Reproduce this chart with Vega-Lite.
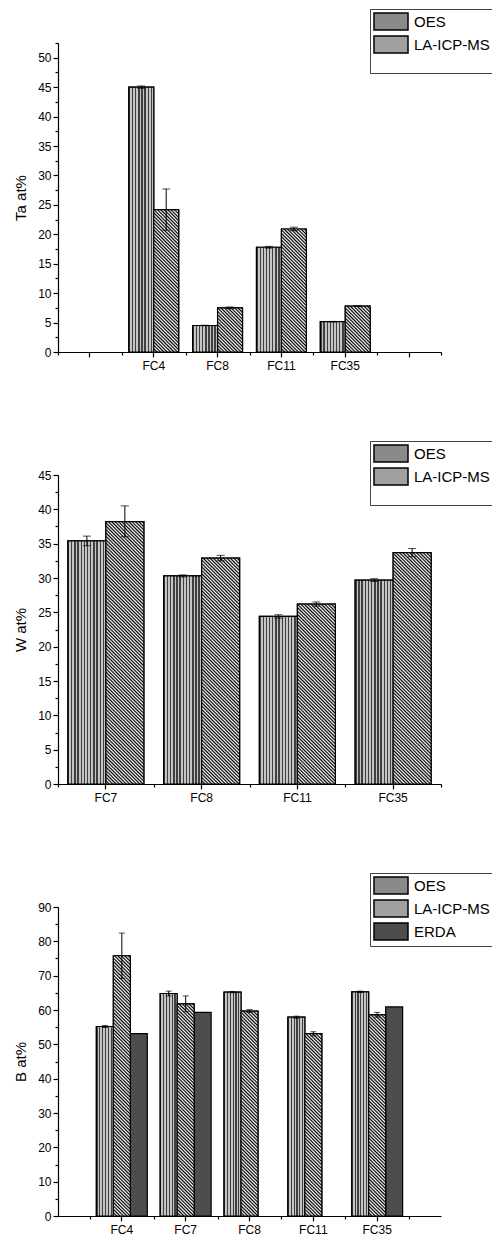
{
  "$schema": "https://vega.github.io/schema/vega-lite/v6.json",
  "padding": {"left": 13, "top": 8, "right": 0, "bottom": 0},
  "params": [
    {"name": "laStops", "value": [
      {"offset": 0, "color": "#000"}, {"offset": 0.005, "color": "#fff"}, {"offset": 0.01, "color": "#000"}, {"offset": 0.015, "color": "#fff"}, {"offset": 0.02, "color": "#000"}, {"offset": 0.025, "color": "#fff"}, {"offset": 0.03, "color": "#000"}, {"offset": 0.035, "color": "#fff"}, {"offset": 0.04, "color": "#000"}, {"offset": 0.045, "color": "#fff"},
      {"offset": 0.05, "color": "#000"}, {"offset": 0.055, "color": "#fff"}, {"offset": 0.06, "color": "#000"}, {"offset": 0.065, "color": "#fff"}, {"offset": 0.07, "color": "#000"}, {"offset": 0.075, "color": "#fff"}, {"offset": 0.08, "color": "#000"}, {"offset": 0.085, "color": "#fff"}, {"offset": 0.09, "color": "#000"}, {"offset": 0.095, "color": "#fff"},
      {"offset": 0.1, "color": "#000"}, {"offset": 0.105, "color": "#fff"}, {"offset": 0.11, "color": "#000"}, {"offset": 0.115, "color": "#fff"}, {"offset": 0.12, "color": "#000"}, {"offset": 0.125, "color": "#fff"}, {"offset": 0.13, "color": "#000"}, {"offset": 0.135, "color": "#fff"}, {"offset": 0.14, "color": "#000"}, {"offset": 0.145, "color": "#fff"},
      {"offset": 0.15, "color": "#000"}, {"offset": 0.155, "color": "#fff"}, {"offset": 0.16, "color": "#000"}, {"offset": 0.165, "color": "#fff"}, {"offset": 0.17, "color": "#000"}, {"offset": 0.175, "color": "#fff"}, {"offset": 0.18, "color": "#000"}, {"offset": 0.185, "color": "#fff"}, {"offset": 0.19, "color": "#000"}, {"offset": 0.195, "color": "#fff"},
      {"offset": 0.2, "color": "#000"}, {"offset": 0.205, "color": "#fff"}, {"offset": 0.21, "color": "#000"}, {"offset": 0.215, "color": "#fff"}, {"offset": 0.22, "color": "#000"}, {"offset": 0.225, "color": "#fff"}, {"offset": 0.23, "color": "#000"}, {"offset": 0.235, "color": "#fff"}, {"offset": 0.24, "color": "#000"}, {"offset": 0.245, "color": "#fff"},
      {"offset": 0.25, "color": "#000"}, {"offset": 0.255, "color": "#fff"}, {"offset": 0.26, "color": "#000"}, {"offset": 0.265, "color": "#fff"}, {"offset": 0.27, "color": "#000"}, {"offset": 0.275, "color": "#fff"}, {"offset": 0.28, "color": "#000"}, {"offset": 0.285, "color": "#fff"}, {"offset": 0.29, "color": "#000"}, {"offset": 0.295, "color": "#fff"},
      {"offset": 0.3, "color": "#000"}, {"offset": 0.305, "color": "#fff"}, {"offset": 0.31, "color": "#000"}, {"offset": 0.315, "color": "#fff"}, {"offset": 0.32, "color": "#000"}, {"offset": 0.325, "color": "#fff"}, {"offset": 0.33, "color": "#000"}, {"offset": 0.335, "color": "#fff"}, {"offset": 0.34, "color": "#000"}, {"offset": 0.345, "color": "#fff"},
      {"offset": 0.35, "color": "#000"}, {"offset": 0.355, "color": "#fff"}, {"offset": 0.36, "color": "#000"}, {"offset": 0.365, "color": "#fff"}, {"offset": 0.37, "color": "#000"}, {"offset": 0.375, "color": "#fff"}, {"offset": 0.38, "color": "#000"}, {"offset": 0.385, "color": "#fff"}, {"offset": 0.39, "color": "#000"}, {"offset": 0.395, "color": "#fff"},
      {"offset": 0.4, "color": "#000"}, {"offset": 0.405, "color": "#fff"}, {"offset": 0.41, "color": "#000"}, {"offset": 0.415, "color": "#fff"}, {"offset": 0.42, "color": "#000"}, {"offset": 0.425, "color": "#fff"}, {"offset": 0.43, "color": "#000"}, {"offset": 0.435, "color": "#fff"}, {"offset": 0.44, "color": "#000"}, {"offset": 0.445, "color": "#fff"},
      {"offset": 0.45, "color": "#000"}, {"offset": 0.455, "color": "#fff"}, {"offset": 0.46, "color": "#000"}, {"offset": 0.465, "color": "#fff"}, {"offset": 0.47, "color": "#000"}, {"offset": 0.475, "color": "#fff"}, {"offset": 0.48, "color": "#000"}, {"offset": 0.485, "color": "#fff"}, {"offset": 0.49, "color": "#000"}, {"offset": 0.495, "color": "#fff"},
      {"offset": 0.5, "color": "#000"}, {"offset": 0.505, "color": "#fff"}, {"offset": 0.51, "color": "#000"}, {"offset": 0.515, "color": "#fff"}, {"offset": 0.52, "color": "#000"}, {"offset": 0.525, "color": "#fff"}, {"offset": 0.53, "color": "#000"}, {"offset": 0.535, "color": "#fff"}, {"offset": 0.54, "color": "#000"}, {"offset": 0.545, "color": "#fff"},
      {"offset": 0.55, "color": "#000"}, {"offset": 0.555, "color": "#fff"}, {"offset": 0.56, "color": "#000"}, {"offset": 0.565, "color": "#fff"}, {"offset": 0.57, "color": "#000"}, {"offset": 0.575, "color": "#fff"}, {"offset": 0.58, "color": "#000"}, {"offset": 0.585, "color": "#fff"}, {"offset": 0.59, "color": "#000"}, {"offset": 0.595, "color": "#fff"},
      {"offset": 0.6, "color": "#000"}, {"offset": 0.605, "color": "#fff"}, {"offset": 0.61, "color": "#000"}, {"offset": 0.615, "color": "#fff"}, {"offset": 0.62, "color": "#000"}, {"offset": 0.625, "color": "#fff"}, {"offset": 0.63, "color": "#000"}, {"offset": 0.635, "color": "#fff"}, {"offset": 0.64, "color": "#000"}, {"offset": 0.645, "color": "#fff"},
      {"offset": 0.65, "color": "#000"}, {"offset": 0.655, "color": "#fff"}, {"offset": 0.66, "color": "#000"}, {"offset": 0.665, "color": "#fff"}, {"offset": 0.67, "color": "#000"}, {"offset": 0.675, "color": "#fff"}, {"offset": 0.68, "color": "#000"}, {"offset": 0.685, "color": "#fff"}, {"offset": 0.69, "color": "#000"}, {"offset": 0.695, "color": "#fff"},
      {"offset": 0.7, "color": "#000"}, {"offset": 0.705, "color": "#fff"}, {"offset": 0.71, "color": "#000"}, {"offset": 0.715, "color": "#fff"}, {"offset": 0.72, "color": "#000"}, {"offset": 0.725, "color": "#fff"}, {"offset": 0.73, "color": "#000"}, {"offset": 0.735, "color": "#fff"}, {"offset": 0.74, "color": "#000"}, {"offset": 0.745, "color": "#fff"},
      {"offset": 0.75, "color": "#000"}, {"offset": 0.755, "color": "#fff"}, {"offset": 0.76, "color": "#000"}, {"offset": 0.765, "color": "#fff"}, {"offset": 0.77, "color": "#000"}, {"offset": 0.775, "color": "#fff"}, {"offset": 0.78, "color": "#000"}, {"offset": 0.785, "color": "#fff"}, {"offset": 0.79, "color": "#000"}, {"offset": 0.795, "color": "#fff"},
      {"offset": 0.8, "color": "#000"}, {"offset": 0.805, "color": "#fff"}, {"offset": 0.81, "color": "#000"}, {"offset": 0.815, "color": "#fff"}, {"offset": 0.82, "color": "#000"}, {"offset": 0.825, "color": "#fff"}, {"offset": 0.83, "color": "#000"}, {"offset": 0.835, "color": "#fff"}, {"offset": 0.84, "color": "#000"}, {"offset": 0.845, "color": "#fff"},
      {"offset": 0.85, "color": "#000"}, {"offset": 0.855, "color": "#fff"}, {"offset": 0.86, "color": "#000"}, {"offset": 0.865, "color": "#fff"}, {"offset": 0.87, "color": "#000"}, {"offset": 0.875, "color": "#fff"}, {"offset": 0.88, "color": "#000"}, {"offset": 0.885, "color": "#fff"}, {"offset": 0.89, "color": "#000"}, {"offset": 0.895, "color": "#fff"},
      {"offset": 0.9, "color": "#000"}, {"offset": 0.905, "color": "#fff"}, {"offset": 0.91, "color": "#000"}, {"offset": 0.915, "color": "#fff"}, {"offset": 0.92, "color": "#000"}, {"offset": 0.925, "color": "#fff"}, {"offset": 0.93, "color": "#000"}, {"offset": 0.935, "color": "#fff"}, {"offset": 0.94, "color": "#000"}, {"offset": 0.945, "color": "#fff"},
      {"offset": 0.95, "color": "#000"}, {"offset": 0.955, "color": "#fff"}, {"offset": 0.96, "color": "#000"}, {"offset": 0.965, "color": "#fff"}, {"offset": 0.97, "color": "#000"}, {"offset": 0.975, "color": "#fff"}, {"offset": 0.98, "color": "#000"}, {"offset": 0.985, "color": "#fff"}, {"offset": 0.99, "color": "#000"}, {"offset": 0.995, "color": "#fff"},
      {"offset": 1, "color": "#000"}
    ]}
  ],
  "config": {
    "font": "Liberation Sans",
    "view": {"stroke": null},
    "axis": {"grid": false, "domainColor": "black", "domainWidth": 1.2, "tickColor": "black", "tickWidth": 1.2, "labelColor": "black", "labelFontSize": 12, "titleColor": "black", "titleFontWeight": "normal", "titleFontSize": 15},
    "legend": {"orient": "none", "legendX": 312, "legendY": -34, "direction": "vertical", "symbolType": "M-1,-1H3V1H-1Z", "symbolSize": 289, "symbolStrokeColor": "black", "symbolStrokeWidth": 1.5, "symbolOpacity": 1, "labelFontSize": 15, "labelColor": "black", "labelOffset": 22, "padding": 3, "strokeColor": "#444", "rowPadding": 0, "titleOrient": "bottom", "titleFontSize": 14, "titlePadding": 0}
  },
  "spacing": 69,
  "resolve": {"scale": {"fill": "independent", "x": "independent", "y": "independent", "xOffset": "independent"}, "legend": {"fill": "independent"}},
  "vconcat": [
    {
      "width": 383, "height": 309,
      "data": {"values": [
        {"sample": "FC4", "series": "OES", "value": 45.0, "lo": 44.8, "hi": 45.2},
        {"sample": "FC4", "series": "LA-ICP-MS", "value": 24.2, "lo": 20.7, "hi": 27.7},
        {"sample": "FC8", "series": "OES", "value": 4.5, "lo": 4.45, "hi": 4.55},
        {"sample": "FC8", "series": "LA-ICP-MS", "value": 7.5, "lo": 7.35, "hi": 7.65},
        {"sample": "FC11", "series": "OES", "value": 17.8, "lo": 17.65, "hi": 17.95},
        {"sample": "FC11", "series": "LA-ICP-MS", "value": 20.9, "lo": 20.6, "hi": 21.2},
        {"sample": "FC35", "series": "OES", "value": 5.15, "lo": 5.1, "hi": 5.2},
        {"sample": "FC35", "series": "LA-ICP-MS", "value": 7.8, "lo": 7.75, "hi": 7.85}
      ]},
      "resolve": {"axis": {"x": "independent", "y": "independent"}},
      "layer": [
        {
          "mark": {"type": "bar", "stroke": "black", "strokeWidth": 1.2, "fillOpacity": 1},
          "encoding": {
            "x": {"field": "sample", "type": "nominal", "scale": {"domain": ["_a", "FC4", "FC8", "FC11", "FC35", "_b"], "paddingInner": 0, "paddingOuter": 0},
                  "axis": {"title": null, "labelAngle": 0, "tickSize": 5, "labelPadding": 3, "labelExpr": "indexof(datum.label, '_') == 0 ? '' : datum.label"}},
            "xOffset": {"field": "series", "type": "nominal", "scale": {"domain": ["OES", "LA-ICP-MS"], "paddingInner": 0, "paddingOuter": 0.28}},
            "y": {"field": "value", "type": "quantitative", "scale": {"domain": [0, 52.5], "nice": false},
                  "axis": {"title": "Ta at%", "values": [0, 5, 10, 15, 20, 25, 30, 35, 40, 45, 50], "tickSize": 5, "labelPadding": 2, "titlePadding": 9}},
            "fill": {"field": "series", "type": "nominal",
                     "scale": {"domain": ["OES", "LA-ICP-MS"], "range": ["#8a8a8a", "#a0a0a0"]},
                     "legend": {"title": " "}}
          }
        },
        {
          "transform": [{"filter": "datum.series === 'OES'"}],
          "mark": {"type": "bar", "stroke": "black", "strokeWidth": 1.2, "fill": {"gradient": "linear", "x1": 0, "y1": 0, "x2": 1, "y2": 0, "stops": [
                         {"offset": 0, "color": "#404040"}, {"offset": 0.05625, "color": "#404040"}, {"offset": 0.05625, "color": "#c4c4c4"}, {"offset": 0.125, "color": "#c4c4c4"},
                         {"offset": 0.125, "color": "#404040"}, {"offset": 0.18125, "color": "#404040"}, {"offset": 0.18125, "color": "#c4c4c4"}, {"offset": 0.25, "color": "#c4c4c4"},
                         {"offset": 0.25, "color": "#404040"}, {"offset": 0.30625, "color": "#404040"}, {"offset": 0.30625, "color": "#c4c4c4"}, {"offset": 0.375, "color": "#c4c4c4"},
                         {"offset": 0.375, "color": "#404040"}, {"offset": 0.43125, "color": "#404040"}, {"offset": 0.43125, "color": "#c4c4c4"}, {"offset": 0.5, "color": "#c4c4c4"},
                         {"offset": 0.5, "color": "#404040"}, {"offset": 0.55625, "color": "#404040"}, {"offset": 0.55625, "color": "#c4c4c4"}, {"offset": 0.625, "color": "#c4c4c4"},
                         {"offset": 0.625, "color": "#404040"}, {"offset": 0.68125, "color": "#404040"}, {"offset": 0.68125, "color": "#c4c4c4"}, {"offset": 0.75, "color": "#c4c4c4"},
                         {"offset": 0.75, "color": "#404040"}, {"offset": 0.80625, "color": "#404040"}, {"offset": 0.80625, "color": "#c4c4c4"}, {"offset": 0.875, "color": "#c4c4c4"},
                         {"offset": 0.875, "color": "#404040"}, {"offset": 0.93125, "color": "#404040"}, {"offset": 0.93125, "color": "#c4c4c4"}, {"offset": 1, "color": "#c4c4c4"}
                       ]}},
          "encoding": {
            "x": {"field": "sample", "type": "nominal", "axis": null},
            "xOffset": {"field": "series", "type": "nominal"},
            "y": {"field": "value", "type": "quantitative", "axis": null}
          }
        },
        {
          "transform": [{"filter": "datum.series === 'LA-ICP-MS'"}],
          "mark": {"type": "bar", "stroke": "black", "strokeWidth": 1.2,
                   "fill": {"expr": "{gradient: 'linear', x1: 0, y1: 1, x2: 339.41 * 24.94 / (622.0 + pow(datum.value * 5.8857, 2)), y2: 1 - 339.41 * datum.value * 5.8857 / (622.0 + pow(datum.value * 5.8857, 2)), stops: laStops}"}},
          "encoding": {
            "x": {"field": "sample", "type": "nominal", "axis": null},
            "xOffset": {"field": "series", "type": "nominal"},
            "y": {"field": "value", "type": "quantitative", "axis": null}
          }
        },
        {
          "mark": {"type": "rule", "color": "black", "strokeWidth": 1},
          "encoding": {
            "x": {"field": "sample", "type": "nominal", "axis": {"orient": "bottom", "title": null, "labels": false, "domain": false, "tickSize": 3, "tickBand": "extent"}},
            "xOffset": {"field": "series", "type": "nominal"},
            "y": {"field": "lo", "type": "quantitative", "axis": {"orient": "left", "title": null, "labels": false, "domain": false, "tickSize": 3, "values": [2.5, 7.5, 12.5, 17.5, 22.5, 27.5, 32.5, 37.5, 42.5, 47.5, 52.5]}},
            "y2": {"field": "hi"}
          }
        },
        {
          "mark": {"type": "tick", "color": "black", "size": 8, "thickness": 1},
          "encoding": {
            "x": {"field": "sample", "type": "nominal", "axis": null},
            "xOffset": {"field": "series", "type": "nominal"},
            "y": {"field": "lo", "type": "quantitative", "axis": null}
          }
        },
        {
          "mark": {"type": "tick", "color": "black", "size": 8, "thickness": 1},
          "encoding": {
            "x": {"field": "sample", "type": "nominal", "axis": null},
            "xOffset": {"field": "series", "type": "nominal"},
            "y": {"field": "hi", "type": "quantitative", "axis": null}
          }
        }
      ]
    },
    {
      "width": 383, "height": 309,
      "data": {"values": [
        {"sample": "FC7", "series": "OES", "value": 35.4, "lo": 34.7, "hi": 36.1},
        {"sample": "FC7", "series": "LA-ICP-MS", "value": 38.2, "lo": 36.0, "hi": 40.5},
        {"sample": "FC8", "series": "OES", "value": 30.3, "lo": 30.15, "hi": 30.45},
        {"sample": "FC8", "series": "LA-ICP-MS", "value": 32.9, "lo": 32.5, "hi": 33.3},
        {"sample": "FC11", "series": "OES", "value": 24.4, "lo": 24.15, "hi": 24.65},
        {"sample": "FC11", "series": "LA-ICP-MS", "value": 26.2, "lo": 25.9, "hi": 26.5},
        {"sample": "FC35", "series": "OES", "value": 29.7, "lo": 29.5, "hi": 29.9},
        {"sample": "FC35", "series": "LA-ICP-MS", "value": 33.7, "lo": 33.1, "hi": 34.3}
      ]},
      "resolve": {"axis": {"x": "independent", "y": "independent"}},
      "layer": [
        {
          "mark": {"type": "bar", "stroke": "black", "strokeWidth": 1.2, "fillOpacity": 1},
          "encoding": {
            "x": {"field": "sample", "type": "nominal", "scale": {"domain": ["FC7", "FC8", "FC11", "FC35"], "paddingInner": 0, "paddingOuter": 0},
                  "axis": {"title": null, "labelAngle": 0, "tickSize": 5, "labelPadding": 3}},
            "xOffset": {"field": "series", "type": "nominal", "scale": {"domain": ["OES", "LA-ICP-MS"], "paddingInner": 0, "paddingOuter": 0.26}},
            "y": {"field": "value", "type": "quantitative", "scale": {"domain": [0, 45], "nice": false},
                  "axis": {"title": "W at%", "values": [0, 5, 10, 15, 20, 25, 30, 35, 40, 45], "tickSize": 5, "labelPadding": 2, "titlePadding": 9}},
            "fill": {"field": "series", "type": "nominal",
                     "scale": {"domain": ["OES", "LA-ICP-MS"], "range": ["#8a8a8a", "#a0a0a0"]},
                     "legend": {"title": " "}}
          }
        },
        {
          "transform": [{"filter": "datum.series === 'OES'"}],
          "mark": {"type": "bar", "stroke": "black", "strokeWidth": 1.2, "fill": {"gradient": "linear", "x1": 0, "y1": 0, "x2": 1, "y2": 0, "stops": [
                         {"offset": 0, "color": "#404040"}, {"offset": 0.0375, "color": "#404040"}, {"offset": 0.0375, "color": "#c4c4c4"}, {"offset": 0.08333, "color": "#c4c4c4"},
                         {"offset": 0.08333, "color": "#404040"}, {"offset": 0.12083, "color": "#404040"}, {"offset": 0.12083, "color": "#c4c4c4"}, {"offset": 0.16667, "color": "#c4c4c4"},
                         {"offset": 0.16667, "color": "#404040"}, {"offset": 0.20417, "color": "#404040"}, {"offset": 0.20417, "color": "#c4c4c4"}, {"offset": 0.25, "color": "#c4c4c4"},
                         {"offset": 0.25, "color": "#404040"}, {"offset": 0.2875, "color": "#404040"}, {"offset": 0.2875, "color": "#c4c4c4"}, {"offset": 0.33333, "color": "#c4c4c4"},
                         {"offset": 0.33333, "color": "#404040"}, {"offset": 0.37083, "color": "#404040"}, {"offset": 0.37083, "color": "#c4c4c4"}, {"offset": 0.41667, "color": "#c4c4c4"},
                         {"offset": 0.41667, "color": "#404040"}, {"offset": 0.45417, "color": "#404040"}, {"offset": 0.45417, "color": "#c4c4c4"}, {"offset": 0.5, "color": "#c4c4c4"},
                         {"offset": 0.5, "color": "#404040"}, {"offset": 0.5375, "color": "#404040"}, {"offset": 0.5375, "color": "#c4c4c4"}, {"offset": 0.58333, "color": "#c4c4c4"},
                         {"offset": 0.58333, "color": "#404040"}, {"offset": 0.62083, "color": "#404040"}, {"offset": 0.62083, "color": "#c4c4c4"}, {"offset": 0.66667, "color": "#c4c4c4"},
                         {"offset": 0.66667, "color": "#404040"}, {"offset": 0.70417, "color": "#404040"}, {"offset": 0.70417, "color": "#c4c4c4"}, {"offset": 0.75, "color": "#c4c4c4"},
                         {"offset": 0.75, "color": "#404040"}, {"offset": 0.7875, "color": "#404040"}, {"offset": 0.7875, "color": "#c4c4c4"}, {"offset": 0.83333, "color": "#c4c4c4"},
                         {"offset": 0.83333, "color": "#404040"}, {"offset": 0.87083, "color": "#404040"}, {"offset": 0.87083, "color": "#c4c4c4"}, {"offset": 0.91667, "color": "#c4c4c4"},
                         {"offset": 0.91667, "color": "#404040"}, {"offset": 0.95417, "color": "#404040"}, {"offset": 0.95417, "color": "#c4c4c4"}, {"offset": 1, "color": "#c4c4c4"}
                       ]}},
          "encoding": {
            "x": {"field": "sample", "type": "nominal", "axis": null},
            "xOffset": {"field": "series", "type": "nominal"},
            "y": {"field": "value", "type": "quantitative", "axis": null}
          }
        },
        {
          "transform": [{"filter": "datum.series === 'LA-ICP-MS'"}],
          "mark": {"type": "bar", "stroke": "black", "strokeWidth": 1.2,
                   "fill": {"expr": "{gradient: 'linear', x1: 0, y1: 1, x2: 339.41 * 38.0 / (1444.0 + pow(datum.value * 6.8667, 2)), y2: 1 - 339.41 * datum.value * 6.8667 / (1444.0 + pow(datum.value * 6.8667, 2)), stops: laStops}"}},
          "encoding": {
            "x": {"field": "sample", "type": "nominal", "axis": null},
            "xOffset": {"field": "series", "type": "nominal"},
            "y": {"field": "value", "type": "quantitative", "axis": null}
          }
        },
        {
          "mark": {"type": "rule", "color": "black", "strokeWidth": 1},
          "encoding": {
            "x": {"field": "sample", "type": "nominal", "axis": {"orient": "bottom", "title": null, "labels": false, "domain": false, "tickSize": 3, "tickBand": "extent"}},
            "xOffset": {"field": "series", "type": "nominal"},
            "y": {"field": "lo", "type": "quantitative", "axis": {"orient": "left", "title": null, "labels": false, "domain": false, "tickSize": 3, "values": [2.5, 7.5, 12.5, 17.5, 22.5, 27.5, 32.5, 37.5, 42.5]}},
            "y2": {"field": "hi"}
          }
        },
        {
          "mark": {"type": "tick", "color": "black", "size": 8, "thickness": 1},
          "encoding": {
            "x": {"field": "sample", "type": "nominal", "axis": null},
            "xOffset": {"field": "series", "type": "nominal"},
            "y": {"field": "lo", "type": "quantitative", "axis": null}
          }
        },
        {
          "mark": {"type": "tick", "color": "black", "size": 8, "thickness": 1},
          "encoding": {
            "x": {"field": "sample", "type": "nominal", "axis": null},
            "xOffset": {"field": "series", "type": "nominal"},
            "y": {"field": "hi", "type": "quantitative", "axis": null}
          }
        }
      ]
    },
    {
      "width": 383, "height": 309,
      "data": {"values": [
        {"sample": "FC4", "series": "OES", "value": 55.2, "lo": 54.9, "hi": 55.5},
        {"sample": "FC4", "series": "LA-ICP-MS", "value": 75.8, "lo": 69.2, "hi": 82.4},
        {"sample": "FC4", "series": "ERDA", "value": 53.1},
        {"sample": "FC7", "series": "OES", "value": 64.8, "lo": 64.1, "hi": 65.5},
        {"sample": "FC7", "series": "LA-ICP-MS", "value": 61.8, "lo": 59.5, "hi": 64.1},
        {"sample": "FC7", "series": "ERDA", "value": 59.3},
        {"sample": "FC8", "series": "OES", "value": 65.2, "lo": 65.0, "hi": 65.4},
        {"sample": "FC8", "series": "LA-ICP-MS", "value": 59.7, "lo": 59.3, "hi": 60.1},
        {"sample": "FC11", "series": "OES", "value": 57.9, "lo": 57.6, "hi": 58.2},
        {"sample": "FC11", "series": "LA-ICP-MS", "value": 53.1, "lo": 52.5, "hi": 53.7},
        {"sample": "FC35", "series": "OES", "value": 65.3, "lo": 65.1, "hi": 65.5},
        {"sample": "FC35", "series": "LA-ICP-MS", "value": 58.6, "lo": 57.9, "hi": 59.3},
        {"sample": "FC35", "series": "ERDA", "value": 60.9}
      ]},
      "resolve": {"axis": {"x": "independent", "y": "independent"}},
      "layer": [
        {
          "mark": {"type": "bar", "stroke": "black", "strokeWidth": 1.2, "fillOpacity": 1},
          "encoding": {
            "x": {"field": "sample", "type": "nominal", "scale": {"domain": ["FC4", "FC7", "FC8", "FC11", "FC35"], "paddingInner": 0, "paddingOuter": 0.5},
                  "axis": {"title": null, "labelAngle": 0, "tickSize": 5, "labelPadding": 3}},
            "xOffset": {"field": "series", "type": "nominal", "scale": {"domain": ["OES", "LA-ICP-MS", "ERDA"], "paddingInner": 0, "paddingOuter": 0.38}},
            "y": {"field": "value", "type": "quantitative", "scale": {"domain": [0, 90], "nice": false},
                  "axis": {"title": "B at%", "values": [0, 10, 20, 30, 40, 50, 60, 70, 80, 90], "tickSize": 5, "labelPadding": 2, "titlePadding": 9}},
            "fill": {"field": "series", "type": "nominal",
                     "scale": {"domain": ["OES", "LA-ICP-MS", "ERDA"], "range": ["#8a8a8a", "#a0a0a0", "#4d4d4d"]},
                     "legend": {"title": null}}
          }
        },
        {
          "transform": [{"filter": "datum.series === 'OES'"}],
          "mark": {"type": "bar", "stroke": "black", "strokeWidth": 1.2, "fill": {"gradient": "linear", "x1": 0, "y1": 0, "x2": 1, "y2": 0, "stops": [
                         {"offset": 0, "color": "#404040"}, {"offset": 0.075, "color": "#404040"}, {"offset": 0.075, "color": "#c4c4c4"}, {"offset": 0.16667, "color": "#c4c4c4"},
                         {"offset": 0.16667, "color": "#404040"}, {"offset": 0.24167, "color": "#404040"}, {"offset": 0.24167, "color": "#c4c4c4"}, {"offset": 0.33333, "color": "#c4c4c4"},
                         {"offset": 0.33333, "color": "#404040"}, {"offset": 0.40833, "color": "#404040"}, {"offset": 0.40833, "color": "#c4c4c4"}, {"offset": 0.5, "color": "#c4c4c4"},
                         {"offset": 0.5, "color": "#404040"}, {"offset": 0.575, "color": "#404040"}, {"offset": 0.575, "color": "#c4c4c4"}, {"offset": 0.66667, "color": "#c4c4c4"},
                         {"offset": 0.66667, "color": "#404040"}, {"offset": 0.74167, "color": "#404040"}, {"offset": 0.74167, "color": "#c4c4c4"}, {"offset": 0.83333, "color": "#c4c4c4"},
                         {"offset": 0.83333, "color": "#404040"}, {"offset": 0.90833, "color": "#404040"}, {"offset": 0.90833, "color": "#c4c4c4"}, {"offset": 1, "color": "#c4c4c4"}
                       ]}},
          "encoding": {
            "x": {"field": "sample", "type": "nominal", "axis": null},
            "xOffset": {"field": "series", "type": "nominal"},
            "y": {"field": "value", "type": "quantitative", "axis": null}
          }
        },
        {
          "transform": [{"filter": "datum.series === 'LA-ICP-MS'"}],
          "mark": {"type": "bar", "stroke": "black", "strokeWidth": 1.2,
                   "fill": {"expr": "{gradient: 'linear', x1: 0, y1: 1, x2: 339.41 * 16.98 / (288.3 + pow(datum.value * 3.4333, 2)), y2: 1 - 339.41 * datum.value * 3.4333 / (288.3 + pow(datum.value * 3.4333, 2)), stops: laStops}"}},
          "encoding": {
            "x": {"field": "sample", "type": "nominal", "axis": null},
            "xOffset": {"field": "series", "type": "nominal"},
            "y": {"field": "value", "type": "quantitative", "axis": null}
          }
        },
        {
          "mark": {"type": "rule", "color": "black", "strokeWidth": 1},
          "encoding": {
            "x": {"field": "sample", "type": "nominal", "axis": {"orient": "bottom", "title": null, "labels": false, "domain": false, "tickSize": 3, "tickBand": "extent"}},
            "xOffset": {"field": "series", "type": "nominal"},
            "y": {"field": "lo", "type": "quantitative", "axis": {"orient": "left", "title": null, "labels": false, "domain": false, "tickSize": 3, "values": [5, 15, 25, 35, 45, 55, 65, 75, 85]}},
            "y2": {"field": "hi"}
          }
        },
        {
          "mark": {"type": "tick", "color": "black", "size": 6, "thickness": 1},
          "encoding": {
            "x": {"field": "sample", "type": "nominal", "axis": null},
            "xOffset": {"field": "series", "type": "nominal"},
            "y": {"field": "lo", "type": "quantitative", "axis": null}
          }
        },
        {
          "mark": {"type": "tick", "color": "black", "size": 6, "thickness": 1},
          "encoding": {
            "x": {"field": "sample", "type": "nominal", "axis": null},
            "xOffset": {"field": "series", "type": "nominal"},
            "y": {"field": "hi", "type": "quantitative", "axis": null}
          }
        }
      ]
    }
  ]
}
